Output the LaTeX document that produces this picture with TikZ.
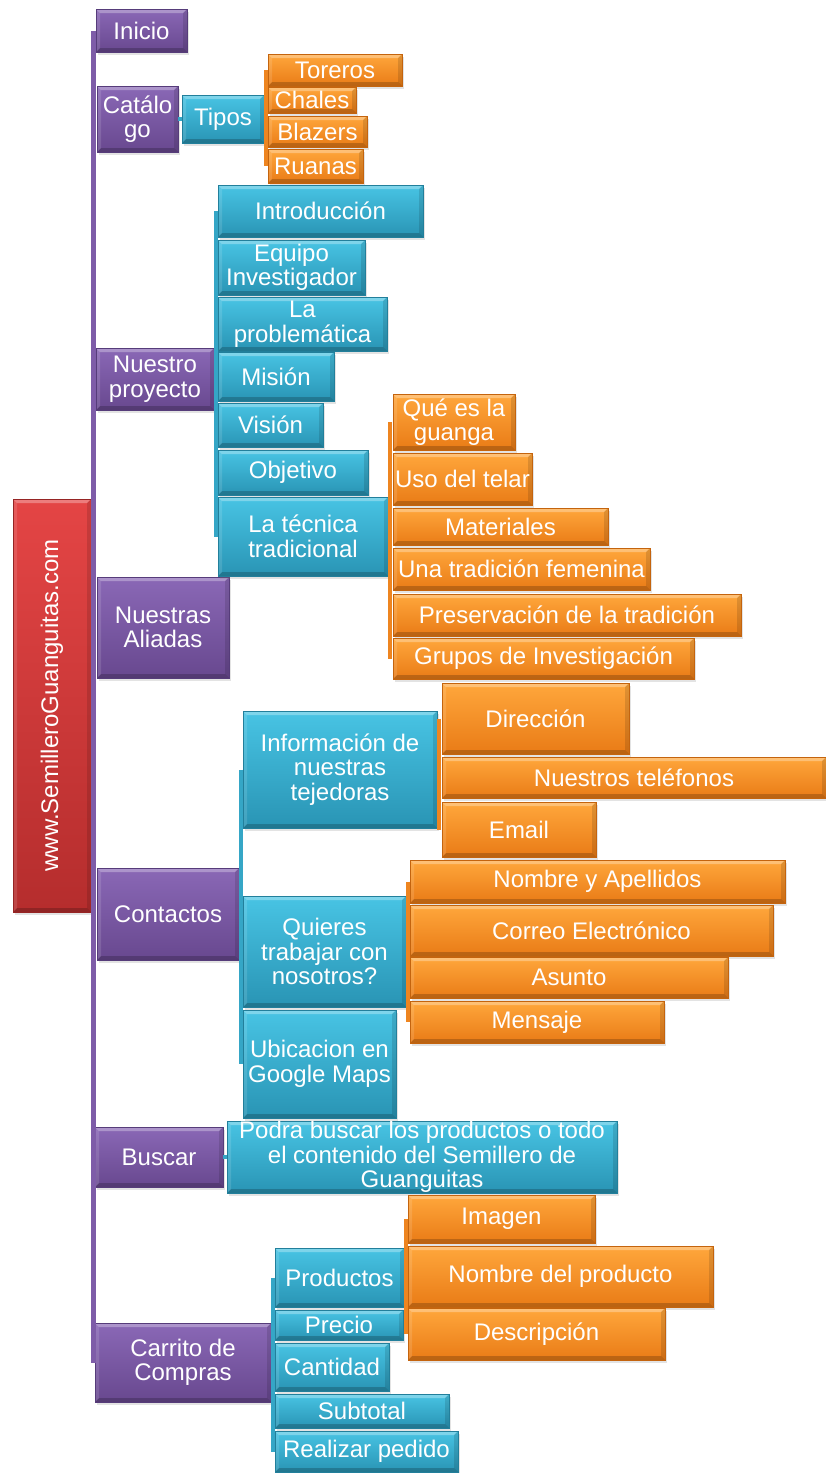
\documentclass[tikz,border=0pt]{standalone}
\usepackage{fontspec}
\setmainfont{Liberation Sans}
\usetikzlibrary{shadows}
\definecolor{ptop}{HTML}{8A68B6}
\definecolor{pbot}{HTML}{68488F}
\definecolor{pdark}{HTML}{563C7A}
\definecolor{pline}{HTML}{7E5CA8}
\definecolor{ttop}{HTML}{48C4E4}
\definecolor{tbot}{HTML}{2994B4}
\definecolor{tdark}{HTML}{227F9B}
\definecolor{tline}{HTML}{35A6C6}
\definecolor{otop}{HTML}{FFA73C}
\definecolor{obot}{HTML}{E97B16}
\definecolor{odark}{HTML}{C4640E}
\definecolor{oline}{HTML}{EE8520}
\definecolor{rtop}{HTML}{E44545}
\definecolor{rbot}{HTML}{B52D2D}
\definecolor{rdark}{HTML}{962424}
\tikzset{
  box/.style={draw, line width=0.5pt, inner sep=0pt, align=center, text=white,
    font=\fontsize{24}{24.5}\selectfont,
    drop shadow={opacity=0.22, shadow xshift=1.5pt, shadow yshift=-3pt},
    path picture={
      \fill[white,opacity=0.30] (path picture bounding box.north west) -- (path picture bounding box.north east)
        -- ([xshift=-4pt,yshift=-4pt]path picture bounding box.north east) -- ([xshift=4pt,yshift=-4pt]path picture bounding box.north west) -- cycle;
      \fill[black,opacity=0.20] (path picture bounding box.south west) -- (path picture bounding box.south east)
        -- ([xshift=-4pt,yshift=4pt]path picture bounding box.south east) -- ([xshift=4pt,yshift=4pt]path picture bounding box.south west) -- cycle;
      \fill[black,opacity=0.12] (path picture bounding box.north east) -- (path picture bounding box.south east)
        -- ([xshift=-4pt,yshift=4pt]path picture bounding box.south east) -- ([xshift=-4pt,yshift=-4pt]path picture bounding box.north east) -- cycle;
      \fill[white,opacity=0.12] (path picture bounding box.north west) -- (path picture bounding box.south west)
        -- ([xshift=4pt,yshift=4pt]path picture bounding box.south west) -- ([xshift=4pt,yshift=-4pt]path picture bounding box.north west) -- cycle;
    }},
  pbox/.style={box, draw=pdark, top color=ptop, bottom color=pbot},
  tbox/.style={box, draw=tdark, top color=ttop, bottom color=tbot},
  obox/.style={box, draw=odark, top color=otop, bottom color=obot},
  rbox/.style={box, draw=rdark, top color=rtop, bottom color=rbot},
  spine/.style={draw=pline, line width=5pt},
  tbrk/.style={draw=tline, line width=4pt},
  obrk/.style={draw=oline, line width=4pt},
}
\newcommand\mkbox[7]{\node[#1, minimum width={(#5-#3)*1pt}, minimum height={(#6-#4)*1pt}] (#2) at ({(#3+#5)/2},{-(#4+#6)/2}) {#7};}
\begin{document}
\begin{tikzpicture}[x=1pt,y=1pt]
\useasboundingbox (0,0) rectangle (825,-1473);
\fill[white] (0,0) rectangle (825,-1473);
% main
\mkbox{rbox}{main}{13}{499}{91}{912}{}
\node[text=white, font=\fontsize{24}{24.5}\selectfont, rotate=90] (maintxt) at (main.center) {www.SemilleroGuanguitas.com};
% level 1
\mkbox{pbox}{inicio}{96}{9}{187}{52}{Inicio}
\mkbox{pbox}{catalogo}{97}{86}{178}{152}{Catálo\\go}
\mkbox{pbox}{nproy}{96}{348}{214}{410}{Nuestro\\proyecto}
\mkbox{pbox}{aliadas}{97}{577}{229}{678}{Nuestras\\Aliadas}
\mkbox{pbox}{contactos}{97}{868}{239}{960}{Contactos}
\mkbox{pbox}{buscar}{95}{1127}{223}{1187}{Buscar}
\mkbox{pbox}{carrito}{95}{1323}{271}{1402}{Carrito de\\Compras}
% catalogo
\mkbox{tbox}{tipos}{182}{95}{264}{143}{Tipos}
\mkbox{obox}{toreros}{268}{54}{402}{86}{Toreros}
\mkbox{obox}{chales}{268}{87}{356}{113}{Chales}
\mkbox{obox}{blazers}{268}{116}{367}{147}{Blazers}
\mkbox{obox}{ruanas}{268}{149}{363}{183}{Ruanas}
% nuestro proyecto
\mkbox{tbox}{intro}{218}{185}{423}{237}{Introducción}
\mkbox{tbox}{equipo}{218}{240}{365}{295}{Equipo\\Investigador}
\mkbox{tbox}{probl}{218}{297}{387}{351}{La\\problemática}
\mkbox{tbox}{mision}{218}{352}{334}{401}{Misión}
\mkbox{tbox}{vision}{218}{403}{323}{447}{Visión}
\mkbox{tbox}{objetivo}{218}{450}{368}{495}{Objetivo}
\mkbox{tbox}{tecnica}{218}{497}{388}{576}{La técnica\\tradicional}
\mkbox{obox}{que}{393}{394}{515}{450}{Qué es la\\guanga}
\mkbox{obox}{uso}{393}{453}{532}{505}{Uso del telar}
\mkbox{obox}{materiales}{393}{508}{608}{545}{Materiales}
\mkbox{obox}{una}{393}{548}{650}{590}{Una tradición femenina}
\mkbox{obox}{preserv}{393}{594}{741}{636}{Preservación de la tradición}
\mkbox{obox}{grupos}{393}{638}{694}{679}{Grupos de Investigación}
% contactos
\mkbox{tbox}{info}{243}{711}{437}{828}{Información de\\nuestras\\tejedoras}
\mkbox{obox}{direccion}{442}{683}{629}{754}{Dirección}
\mkbox{obox}{telefonos}{442}{757}{826}{798}{Nuestros teléfonos}
\mkbox{obox}{email}{442}{802}{596}{857}{Email}
\mkbox{obox}{nombre}{410}{860}{785}{903}{Nombre y Apellidos}
\mkbox{obox}{correo}{410}{905}{773}{956}{Correo Electrónico}
\mkbox{obox}{asunto}{410}{957}{728}{998}{Asunto}
\mkbox{obox}{mensaje}{410}{1001}{664}{1043}{Mensaje}
\mkbox{tbox}{quieres}{243}{896}{406}{1007}{Quieres\\trabajar con\\nosotros?}
\mkbox{tbox}{ubicacion}{243}{1010}{396}{1118}{Ubicacion en\\Google Maps}
% buscar
\mkbox{tbox}{podra}{227}{1121}{617}{1193}{Podra buscar los productos o todo\\el contenido del Semillero de\\Guanguitas}
% carrito
\mkbox{obox}{imagen}{408}{1195}{595}{1243}{Imagen}
\mkbox{obox}{nombreprod}{408}{1246}{713}{1307}{Nombre del producto}
\mkbox{obox}{descripcion}{408}{1308}{665}{1360}{Descripción}
\mkbox{tbox}{productos}{275}{1248}{404}{1307}{Productos}
\mkbox{tbox}{precio}{275}{1310}{403}{1340}{Precio}
\mkbox{tbox}{cantidad}{275}{1343}{389}{1391}{Cantidad}
\mkbox{tbox}{subtotal}{275}{1394}{449}{1428}{Subtotal}
\mkbox{tbox}{realizar}{275}{1431}{458}{1472}{Realizar pedido}
% connectors
\draw[spine] ([xshift=-2.5pt]inicio.west) -- ([xshift=-2.5pt]inicio.west |- carrito.west);
\draw[tbrk] (catalogo.east |- tipos.west) -- (tipos.west);
\draw[obrk] ([xshift=-2pt]toreros.west) -- ([xshift=-2pt]ruanas.west);
\draw[tbrk] ([xshift=-2pt]intro.west) -- ([xshift=-2pt]tecnica.west);
\draw[obrk] ([xshift=-2.5pt]que.west) -- ([xshift=-2.5pt]grupos.west);
\draw[tbrk] ([xshift=-2pt]info.west) -- ([xshift=-2pt]ubicacion.west);
\draw[obrk] ([xshift=-2.5pt]direccion.west) -- ([xshift=-2.5pt]email.west);
\draw[obrk] ([xshift=-2pt]nombre.west) -- ([xshift=-2pt]mensaje.west);
\draw[tbrk] (buscar.east |- podra.west) -- (podra.west);
\draw[tbrk] ([xshift=-2pt]productos.west) -- ([xshift=-2pt]realizar.west);
\draw[obrk] ([xshift=-2pt]imagen.west) -- ([xshift=-2pt]descripcion.west);
\end{tikzpicture}
\end{document}
